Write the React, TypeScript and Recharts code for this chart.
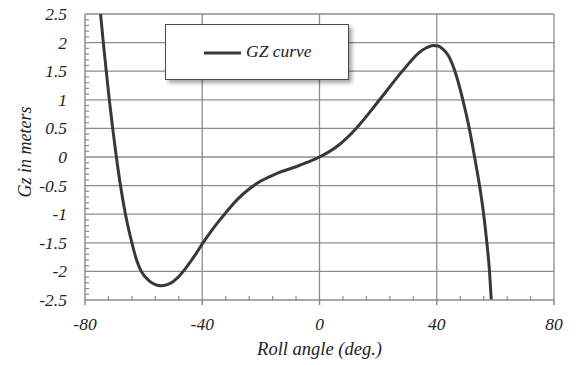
import React from 'react';
import { LineChart, Line, XAxis, YAxis, CartesianGrid, Legend } from 'recharts';

// GZ righting-arm curve: roll angle (deg.) vs Gz (m)
const rollAngle = [
  -74.7, -73.75, -72.75, -71.7, -70.55, -69.3, -67.9, -66.2, -64.0, -62.4, -60.8, -58.0,
  -56.0, -54.0, -52.0, -50.0, -48.0, -46.0, -44.0, -42.0, -40.0, -37.0, -34.0, -32.4,
  -28.0, -24.0, -20.0, -16.0, -13.7, -8.0, -4.5, 0, 6.6, 12.5, 20.5, 28.4, 34.1, 36.5,
  38.8, 40.5, 42.0, 44.0, 46.2, 48.9, 51.1, 52.9, 54.6, 56.0, 57.1, 58.0, 58.6,
];
const gzValues = [
  2.5, 2.0, 1.5, 1.0, 0.5, 0, -0.5, -1.0, -1.5, -1.8, -2.0, -2.17,
  -2.23, -2.25, -2.23, -2.18, -2.09, -1.97, -1.83, -1.68, -1.52, -1.3, -1.1, -1.0,
  -0.74, -0.56, -0.42, -0.32, -0.27, -0.17, -0.1, 0, 0.21, 0.5, 1.0, 1.51, 1.83, 1.91,
  1.95, 1.94, 1.89, 1.77, 1.5, 1.0, 0.5, 0, -0.5, -1.0, -1.5, -2.0, -2.5,
];

const xMajor = [-80, -40, 0, 40, 80];
const yMajor = [-2.5, -2, -1.5, -1, -0.5, 0, 0.5, 1, 1.5, 2, 2.5];
const xGrid = [-40, 0, 40, 80];
const yGrid = [-2, -1.5, -1, -0.5, 0, 0.5, 1, 1.5, 2, 2.5];
// minor ticks every 8 deg. and every 0.1 m
const xTicks = Array.from({ length: 21 }, (_, i) => -80 + i * 8);
const yTicks = Array.from({ length: 51 }, (_, i) => Math.round((-2.5 + i * 0.1) * 10) / 10);

const data = rollAngle.map((a, i) => ({ angle: a, gz: gzValues[i] }));

const FONT = '"Liberation Serif", "Times New Roman", serif';
const AXIS = '#8c8c8c';
const INK = '#383838';
const TEXT = '#222';

const isMajor = (v: number, list: number[]) => list.some((m) => Math.abs(m - v) < 1e-6);

const XTick = (props: any) => {
  const { x, y, payload } = props;
  const v = payload.value as number;
  if (isMajor(v, xMajor)) {
    return (
      <g>
        <line x1={x} x2={x} y1={y} y2={y + 5} stroke={AXIS} strokeWidth={1.5} />
        <text x={x} y={y + 30} textAnchor="middle" fontFamily={FONT} fontStyle="italic" fontSize={17.5} fill={TEXT}>
          {String(v)}
        </text>
      </g>
    );
  }
  return <line x1={x} x2={x} y1={y - 4} y2={y} stroke={AXIS} strokeWidth={1.2} />;
};

const YTick = (props: any) => {
  const { x, y, payload } = props;
  const v = payload.value as number;
  if (isMajor(v, yMajor)) {
    return (
      <text x={x - 18} y={y + 6} textAnchor="end" fontFamily={FONT} fontStyle="italic" fontSize={17.5} fill={TEXT}>
        {String(v)}
      </text>
    );
  }
  return <line x1={x} x2={x + 4} y1={y} y2={y} stroke={AXIS} strokeWidth={1.2} />;
};

const LegendBox = () => (
  <div
    style={{
      boxSizing: 'border-box',
      width: 184,
      height: 56,
      border: '1.5px solid #4a4a4a',
      background: '#fff',
      boxShadow: '3px 3px 4px rgba(0,0,0,0.35)',
      position: 'relative',
    }}
  >
    <svg width={40} height={6} style={{ position: 'absolute', left: 38, top: 25 }}>
      <line x1={0} x2={37} y1={3} y2={3} stroke={INK} strokeWidth={3} />
    </svg>
    <span
      style={{
        position: 'absolute',
        left: 80,
        top: 16,
        fontFamily: FONT,
        fontStyle: 'italic',
        fontSize: 17.5,
        color: TEXT,
        lineHeight: '20px',
        whiteSpace: 'nowrap',
      }}
    >
      GZ curve
    </span>
  </div>
);

export default function App() {
  return (
    <div style={{ position: 'absolute', left: 0, top: 0, background: '#fff' }}>
      <LineChart width={576} height={365} data={data} margin={{ top: 14, right: 22, left: 0, bottom: 0 }}>
        <CartesianGrid horizontalValues={yGrid} verticalValues={xGrid} stroke={AXIS} strokeWidth={1.3} />
        <XAxis
          dataKey="angle"
          type="number"
          domain={[-80, 80]}
          ticks={xTicks}
          interval={0}
          tickSize={0}
          tickMargin={0}
          tickLine={false}
          axisLine={{ stroke: AXIS, strokeWidth: 1.5 }}
          height={65}
          tick={<XTick />}
          allowDataOverflow
          label={{
            content: (p: any) => {
              const vb = p.viewBox;
              return (
                <text x={vb.x + vb.width / 2} y={vb.y + 55} textAnchor="middle" fontFamily={FONT} fontStyle="italic" fontSize={18.5} fill={TEXT}>
                  Roll angle (deg.)
                </text>
              );
            },
          }}
        />
        <YAxis
          type="number"
          domain={[-2.5, 2.5]}
          ticks={yTicks}
          interval={0}
          tickSize={0}
          tickMargin={0}
          tickLine={false}
          axisLine={{ stroke: AXIS, strokeWidth: 1.5 }}
          width={85}
          tick={<YTick />}
          allowDataOverflow
          label={{
            content: (p: any) => {
              const vb = p.viewBox;
              const cx = vb.x + 31;
              const cy = vb.y + vb.height / 2 - 5;
              return (
                <text x={cx} y={cy} transform={`rotate(-90 ${cx} ${cy})`} textAnchor="middle" fontFamily={FONT} fontStyle="italic" fontSize={18} fill={TEXT}>
                  Gz in meters
                </text>
              );
            },
          }}
        />
        <Legend
          layout="vertical"
          align="center"
          verticalAlign="middle"
          wrapperStyle={{ left: 165, top: 24, width: 184, height: 56 }}
          content={() => <LegendBox />}
        />
        <Line
          type="monotone"
          dataKey="gz"
          stroke={INK}
          strokeWidth={3}
          dot={false}
          isAnimationActive={false}
        />
      </LineChart>
    </div>
  );
}
